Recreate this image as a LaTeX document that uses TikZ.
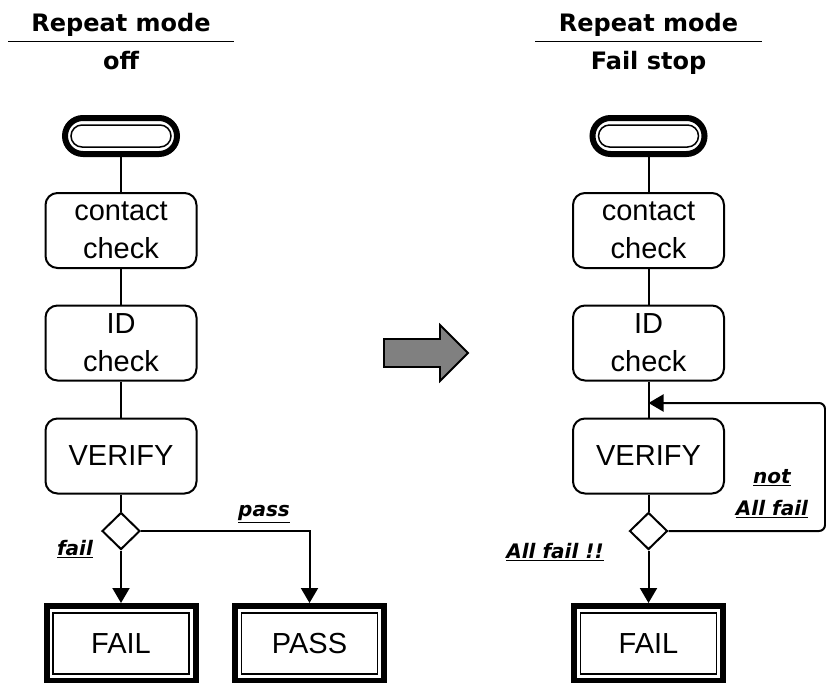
\documentclass[tikz,border=0pt]{standalone}
\usepackage{fontspec}
\setmainfont{Liberation Sans}
\newfontfamily\dejavu{DejaVu Sans}
\usetikzlibrary{shapes.geometric,shapes.misc,arrows.meta}
\definecolor{arrowgray}{HTML}{808080}
\begin{document}
\begin{tikzpicture}[x=1pt,y=-1pt, line width=2pt,
  box/.style={draw, rounded corners=12pt, minimum width=151pt, minimum height=75pt, align=center, font=\fontsize{29}{38}\selectfont, inner sep=0pt},
  termout/.style={draw, rounded rectangle, line width=6pt, minimum width=112pt, minimum height=36pt, inner sep=0pt},
  termin/.style={draw, rounded rectangle, line width=1.5pt, minimum width=100pt, minimum height=22pt, inner sep=0pt},
  endout/.style={draw, line width=6pt, minimum width=149pt, minimum height=75pt, inner sep=0pt},
  endin/.style={draw, line width=1.5pt, minimum width=136pt, minimum height=61pt, inner sep=0pt, font=\fontsize{29}{34}\selectfont},
  dec/.style={draw, diamond, minimum width=38pt, minimum height=37pt, inner sep=0pt},
  ttl/.style={font=\dejavu\bfseries\fontsize{24}{28}\selectfont, anchor=base, inner sep=0pt},
  lab/.style={font=\dejavu\bfseries\itshape\fontsize{20}{32}\selectfont, align=center, inner sep=0pt},
  arr/.style={-{Triangle[width=17pt,length=15pt]}},
]
\useasboundingbox (0,0) rectangle (826,682);

% ---------- left column ----------
\node[ttl] (tl1) at (121,32) {Repeat mode};
\node[ttl] (tl2) at (121,70) {off};
\coordinate (la) at (8,41.5);
\coordinate (lb) at (234,41.5);
\draw[line width=1.8pt] (la) -- (lb);

\node[termout] (s1) at (121,136) {};
\node[termin] (s1i) at (121,136) {};
\node[box] (c1) at (121,230.5) {contact\\check};
\node[box] (i1) at (121,343) {ID\\check};
\node[box] (v1) at (121,456) {VERIFY};
\node[dec] (d1) at (121,531) {};
\node[endout] (f1) at (121,643.5) {};
\node[endin] (f1i) at (121,643.5) {FAIL};
\node[endout] (p1) at (309.5,643.5) {};
\node[endin] (p1i) at (309.5,643.5) {PASS};

\draw (s1.south) -- (c1.north);
\draw (c1.south) -- (i1.north);
\draw (i1.south) -- (v1.north);
\draw (v1.south) -- (d1.north);
\draw[arr] (d1.south) -- (f1.north);
\draw[arr] (d1.east) -| (p1.north);

\node[lab] (lpass) at (264,514) {\underline{pass}};
\node[lab] (lfail) at (75,549) {\underline{fail}};

% ---------- big arrow ----------
\filldraw[fill=arrowgray, draw=black, line width=1.8pt, line join=miter]
  (384,339) -- (440,339) -- (440,325) -- (468,353) -- (440,381) -- (440,367) -- (384,367) -- cycle;

% ---------- right column ----------
\node[ttl] (tr1) at (648.5,32) {Repeat mode};
\node[ttl] (tr2) at (648.5,70) {Fail stop};
\coordinate (ra) at (535,41.5);
\coordinate (rb) at (762,41.5);
\draw[line width=1.8pt] (ra) -- (rb);

\node[termout] (s2) at (648.5,136) {};
\node[termin] (s2i) at (648.5,136) {};
\node[box] (c2) at (648.5,230.5) {contact\\check};
\node[box] (i2) at (648.5,343) {ID\\check};
\node[box] (v2) at (648.5,456) {VERIFY};
\node[dec] (d2) at (648.5,531) {};
\node[endout] (f2) at (648.5,643.5) {};
\node[endin] (f2i) at (648.5,643.5) {FAIL};

\draw (s2.south) -- (c2.north);
\draw (c2.south) -- (i2.north);
\draw (i2.south) -- (v2.north);
\draw (v2.south) -- (d2.north);
\draw[arr] (d2.south) -- (f2.north);

\coordinate (k1) at (825,531);
\coordinate (k2) at (825,403);
\coordinate (kin) at (648.5,403);
\draw[arr, rounded corners=6pt] (d2.east) -- (k1) -- (k2) -- (kin);

\node[lab] (lnot) at (772,494) {\underline{not}\\\underline{All fail}};
\node[lab] (lall) at (555,552) {\underline{All fail !!}};
\end{tikzpicture}
\end{document}
